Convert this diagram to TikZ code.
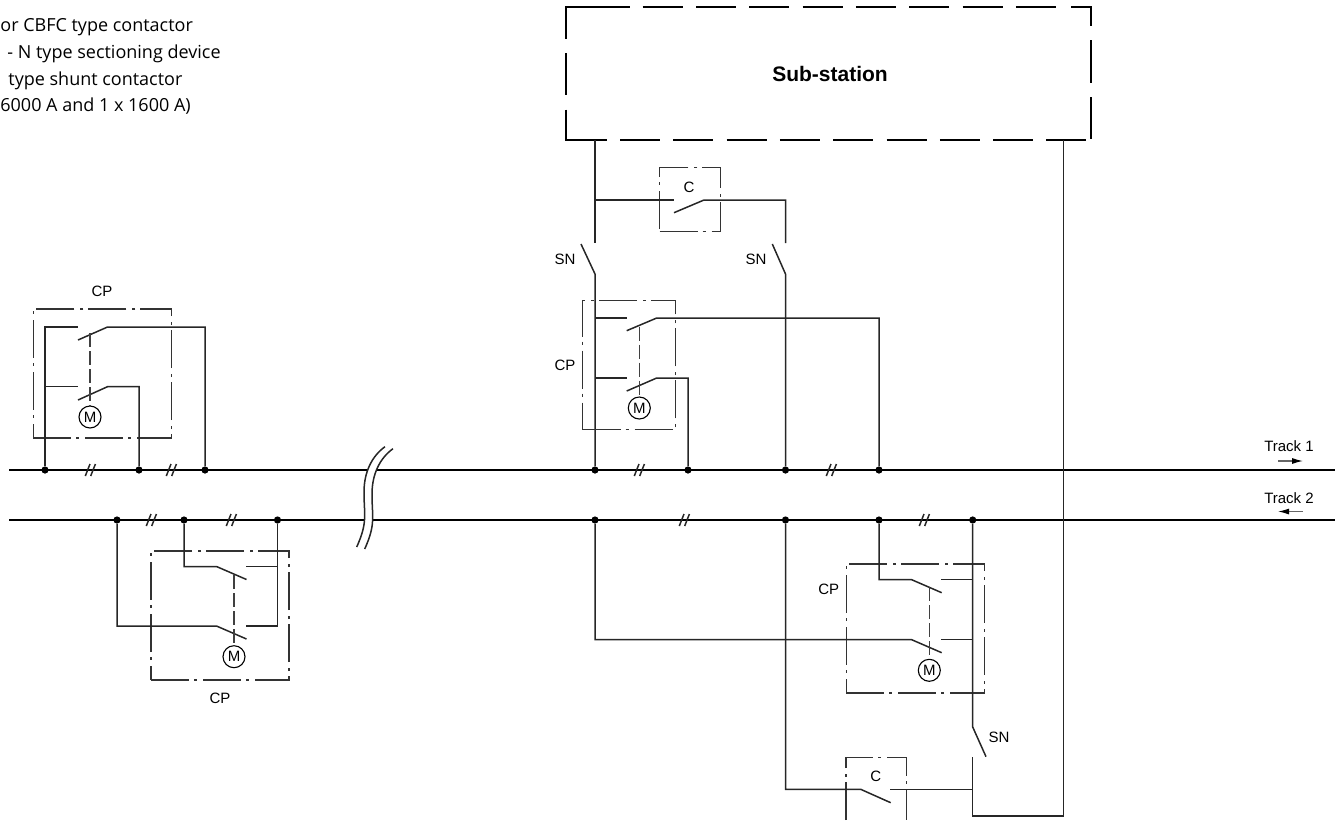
\documentclass[tikz,border=0pt]{standalone}
\usepackage{fontspec}
\setmainfont{Liberation Sans}
\newfontfamily\notefont{Open Sans}
\usetikzlibrary{arrows.meta}
\tikzset{
  wire/.style={line width=0.75pt,black!85},
  rail/.style={line width=1.4pt,black},
  junction/.style={circle,fill=black,inner sep=0pt,minimum size=3.6pt},
  enclosure/.style={draw=black!80,line width=0.55pt,dash pattern=on 19pt off 2.5pt on 1.5pt off 3pt,inner sep=0pt},
  linkage/.style={line width=0.75pt,black!75,dash pattern=on 7pt off 2pt},
  motor/.style={circle,draw,line width=0.55pt,minimum size=11pt,inner sep=0pt,font=\fontsize{7.5}{9}\selectfont},
  tag/.style={font=\fontsize{7.5}{9}\selectfont},
  note/.style={font=\notefont\fontsize{9}{11}\selectfont,anchor=base west,inner sep=0pt},
  stationline/.style={line width=1pt,black},
  heading/.style={line width=0.6pt,black!60,-{Latex[length=5.5pt,width=3pt,black]}}
}
\begin{document}
\begin{tikzpicture}[x=0.5pt,y=-0.5pt]
  \useasboundingbox (0,0) rectangle (1344,820);
  % legend
  \node[note] (note1) at (0,31) {or CBFC type contactor};
  \node[note] (note2) at (7,58) {- N type sectioning device};
  \node[note] (note3) at (8,85) {type shunt contactor};
  \node[note] (note4) at (0,111) {6000 A and 1 x 1600 A)};
  % sub-station
  \node[font=\bfseries\fontsize{10.5}{12}\selectfont] (station) at (830,74) {Sub-station};
  \draw[stationline] (566,38.6) -- (566,7) -- (629.6,7) (566,53) -- (566,95)
    (566,109.5) -- (566,140) -- (606.6,140) (1071,7) -- (1091,7) -- (1091,26)
    (1091,40) -- (1091,82.5) (1091,97) -- (1091,138.6);
  \foreach \x in {642.7,696,749.3,802.6,855.9,909.2,962.5,1015.8}
    \draw[stationline] (\x,7) -- (\x+40,7);
  \foreach \x in {620,673.3,726.6,779.9,833.2,886.5,939.8,993.1,1046.4}
    \draw[stationline] (\x,140) -- (\x+40,140);
  \coordinate (feedl) at (595,140);
  \coordinate (feedr) at (1063.7,140);
  % tracks
  \coordinate (t1l) at (9,470);
  \coordinate (t1r) at (1335,470);
  \coordinate (t2l) at (9,520);
  \coordinate (t2r) at (1335,520);
  \draw[rail] (t1l) -- (t1r);
  \draw[rail] (t2l) -- (t2r);
  \foreach \n/\x in {a/45,b/139,c/205,d/595,e/688,f/785.5,g/879}
    \node[junction] (t1\n) at (\x,470) {};
  \foreach \n/\x in {a/117,b/184,c/277.5,d/595,e/785.5,f/879,g/972.7}
    \node[junction] (t2\n) at (\x,520) {};
  \foreach \x/\y in {90/470,171/470,639/470,831/470,151/520,231/520,684/520,924/520}
    \draw[wire] (\x-4.7,\y+6) -- (\x,\y-6) (\x+0.7,\y+6) -- (\x+5.4,\y-6);
  % cut in the tracks
  \fill[white] (385,446.7) .. controls (372,456) and (364,472) .. (364,492)
    .. controls (364,515) and (368,522) .. (356.7,547) -- (364.7,549)
    .. controls (376,524) and (372,517) .. (372,494)
    .. controls (372,474) and (380,458) .. (393,448.7) -- cycle;
  \draw[wire] (385,446.7) .. controls (372,456) and (364,472) .. (364,492)
    .. controls (364,515) and (368,522) .. (356.7,547);
  \draw[wire] (393,448.7) .. controls (380,458) and (372,474) .. (372,494)
    .. controls (372,517) and (376,524) .. (364.7,549);
  \node[tag] (track1) at (1289,446.5) {Track 1};
  \node[tag] (track2) at (1289,498) {Track 2};
  \coordinate (dir1a) at (1278,461);
  \coordinate (dir1b) at (1303,461);
  \coordinate (dir2a) at (1303,511.5);
  \coordinate (dir2b) at (1278,511.5);
  \draw[heading] (dir1a) -- (dir1b);
  \draw[heading] (dir2a) -- (dir2b);

  % left CP, track 1
  \node[enclosure,minimum width=69pt,minimum height=64.5pt] (cpa) at (102.3,373.5) {};
  \node[tag] (cpalabel) at (102,291) {CP};
  \coordinate (ka1) at (78,327);
  \coordinate (ka2) at (78,340);
  \coordinate (ka3) at (107.5,327);
  \coordinate (ka4) at (78,386.7);
  \coordinate (ka5) at (78,400);
  \coordinate (ka6) at (107.5,386.7);
  \node[motor] (ma) at (90,417) {M};
  \coordinate (laa) at (90,333);
  \draw[wire] (t1a) |- (ka1);
  \draw[wire] (t1a |- ka4) -- (ka4);
  \draw[wire] (ka2) -- (ka3) -| (t1c);
  \draw[wire] (ka5) -- (ka6) -| (t1b);
  \draw[linkage] (laa) -- (ma);

  % left CP, track 2
  \node[enclosure,minimum width=69pt,minimum height=64.5pt] (cpb) at (220,615.5) {};
  \node[tag] (cpblabel) at (220,698) {CP};
  \coordinate (kb1) at (216.5,566.5);
  \coordinate (kb2) at (246.5,579.5);
  \coordinate (kb3) at (246,566.5);
  \coordinate (kb4) at (216.5,626);
  \coordinate (kb5) at (246.5,639);
  \coordinate (kb6) at (246,626);
  \node[motor] (mb) at (234,656.7) {M};
  \coordinate (lab) at (234,575);
  \draw[wire] (t2b) |- (kb1) -- (kb2);
  \draw[wire] (t2a) |- (kb4) -- (kb5);
  \draw[wire] (t2c) |- (kb6);
  \draw[wire] (t2c |- kb3) -- (kb3);
  \draw[linkage] (lab) -- (mb);

  % centre, track 1
  \node[enclosure,minimum width=30.3pt,minimum height=31.7pt] (ca) at (690,199.4) {};
  \node[tag] (calabel) at (689,187) {C};
  \node[tag] (sna) at (565,259) {SN};
  \node[tag] (snb) at (756,259) {SN};
  \coordinate (sa1) at (581,244);
  \coordinate (sa2) at (595,274);
  \coordinate (sa3) at (595,243);
  \coordinate (sb1) at (772.3,244);
  \coordinate (sb2) at (785.5,274);
  \coordinate (sb3) at (785.5,243);
  \coordinate (kc1) at (674,200);
  \coordinate (kc2) at (674,212.7);
  \coordinate (kc3) at (704,200);
  \draw[wire] (feedl) -- (sa3);
  \draw[wire] (sa3 |- kc1) -- (kc1);
  \draw[wire] (kc2) -- (kc3) -| (sb3);
  \draw[wire] (sa1) -- (sa2) -- (t1d);
  \draw[wire] (sb1) -- (sb2) -- (t1f);
  \node[enclosure,minimum width=46.3pt,minimum height=64.5pt] (cpc) at (629,365.2) {};
  \node[tag] (cpclabel) at (565,365) {CP};
  \coordinate (kd1) at (626.7,318);
  \coordinate (kd2) at (626.7,330.7);
  \coordinate (kd3) at (656.7,318);
  \coordinate (kd4) at (626.7,378);
  \coordinate (kd5) at (626.7,391);
  \coordinate (kd6) at (656.7,378);
  \node[motor] (mc) at (639.3,408) {M};
  \coordinate (lac) at (639.3,326.7);
  \draw[wire] (t1d |- kd1) -- (kd1);
  \draw[wire] (t1d |- kd4) -- (kd4);
  \draw[wire] (kd2) -- (kd3) -| (t1g);
  \draw[wire] (kd5) -- (kd6) -| (t1e);
  \draw[linkage] (lac) -- (mc);

  % right, track 2
  \node[enclosure,minimum width=68.9pt,minimum height=64.5pt] (cpd) at (915.2,628.5) {};
  \node[tag] (cpdlabel) at (828.7,589) {CP};
  \coordinate (ke1) at (911.7,579.7);
  \coordinate (ke2) at (941.7,592.7);
  \coordinate (ke3) at (941,579.7);
  \coordinate (ke4) at (911.7,639.7);
  \coordinate (ke5) at (941.7,652.7);
  \coordinate (ke6) at (941,639.7);
  \node[motor] (md) at (929.3,670.3) {M};
  \coordinate (lad) at (929.3,587);
  \draw[wire] (t2f) |- (ke1) -- (ke2);
  \draw[wire] (t2d) |- (ke4) -- (ke5);
  \draw[wire] (ke3) -- (ke3 -| t2g);
  \draw[wire] (ke6) -- (ke6 -| t2g);
  \draw[linkage] (lad) -- (md);
  \node[tag] (snc) at (999,737) {SN};
  \coordinate (sc1) at (972.7,727);
  \coordinate (sc2) at (986,756.7);
  \coordinate (sc3) at (972.7,757);
  \coordinate (ret) at (972.7,816);
  \draw[wire] (t2g) -- (sc1) -- (sc2);
  \draw[wire] (feedr) |- (ret) -- (sc3);
  \coordinate (cbl) at (846,820);
  \coordinate (cbr) at (906.3,820);
  \coordinate (cbt) at (846,757.3);
  \draw[draw=black!80,line width=0.55pt,dash pattern=on 19pt off 2.5pt on 1.5pt off 3pt] (cbl) -- (cbt) -| (cbr);
  \node[tag] (cblabel) at (875.7,776) {C};
  \coordinate (kf1) at (860.7,789.3);
  \coordinate (kf2) at (890.7,802.7);
  \coordinate (kf3) at (890.3,789.3);
  \draw[wire] (t2e) |- (kf1) -- (kf2);
  \draw[wire] (kf3) -- (kf3 -| sc3);
\end{tikzpicture}
\end{document}
